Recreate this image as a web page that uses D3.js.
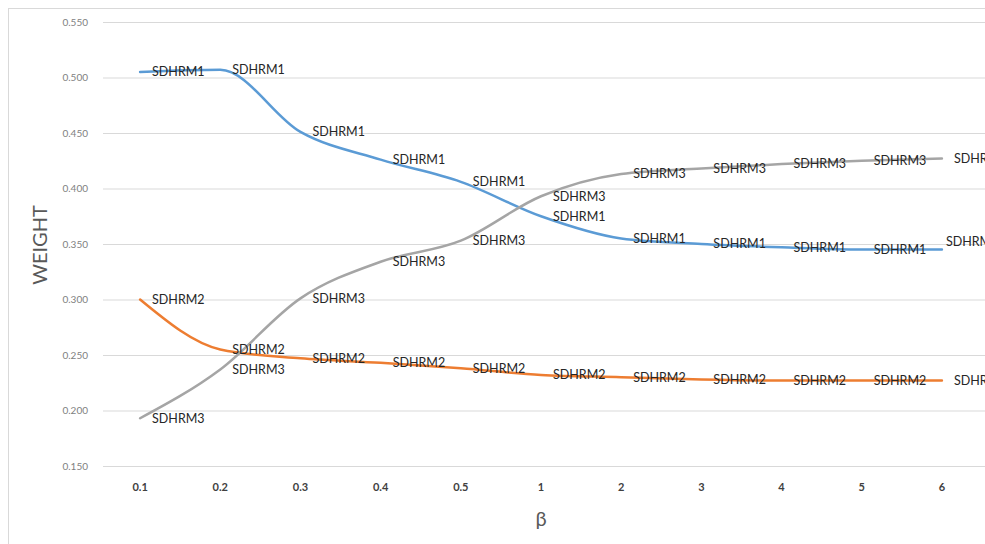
<!DOCTYPE html>
<html lang="en">
<head>
<meta charset="utf-8">
<title>Weight vs beta</title>
<script src="https://d3js.org/d3.v7.min.js"></script>
<style>
  body { margin: 0; background: #fff; }
  svg { display: block; }
</style>
</head>
<body>
<div id="chart"></div>
<script>
// categories on the x axis (beta)
var betas = ["0.1", "0.2", "0.3", "0.4", "0.5", "1", "2", "3", "4", "5", "6"];

// series values
var sdhrm1 = [0.505, 0.507, 0.451, 0.426, 0.406, 0.375, 0.355, 0.350, 0.347, 0.345, 0.345];
var sdhrm2 = [0.300, 0.255, 0.247, 0.243, 0.238, 0.232, 0.230, 0.228, 0.227, 0.227, 0.227];
var sdhrm3 = [0.193, 0.237, 0.301, 0.334, 0.353, 0.393, 0.413, 0.418, 0.422, 0.425, 0.427];

var seriesNames = ["SDHRM1", "SDHRM2", "SDHRM3"];
var yTicks = [0.150, 0.200, 0.250, 0.300, 0.350, 0.400, 0.450, 0.500, 0.550];

var w = 985, h = 544;
var colors = ["#5b9bd5", "#ed7d31", "#a5a5a5"];

var series = [sdhrm1, sdhrm2, sdhrm3].map(function(vals, i) {
  return { name: seriesNames[i], values: vals };
});

var svg = d3.select("#chart").append("svg")
  .attr("width", w).attr("height", h);

// faint chart frame
svg.append("rect")
  .attr("x", 8.5).attr("y", 8.5)
  .attr("width", 990).attr("height", 550)
  .attr("fill", "none").attr("stroke", "#d9d9d9");

var xScale = d3.scaleBand()
  .domain(betas)
  .range([100, 982]);

var yScale = d3.scaleLinear()
  .domain([0.15, 0.55])
  .range([466, 22]);

// gridlines
svg.append("g").selectAll("line")
  .data(yTicks).enter().append("line")
  .attr("x1", 103).attr("x2", 985)
  .attr("y1", function(d) { return yScale(d) + 0.5; })
  .attr("y2", function(d) { return yScale(d) + 0.5; })
  .attr("stroke", "#d9d9d9").attr("stroke-width", 1);

// y axis labels
svg.append("g").selectAll("text")
  .data(yTicks).enter().append("text")
  .attr("x", 88)
  .attr("y", function(d) { return yScale(d); })
  .attr("dy", "0.35em")
  .attr("text-anchor", "end")
  .attr("font-family", "Lato, sans-serif")
  .attr("font-size", "10px")
  .attr("fill", "#7f7f7f")
  .text(function(d) { return d3.format(".3f")(d); });

// x axis labels
svg.append("g").selectAll("text")
  .data(betas).enter().append("text")
  .attr("x", function(d) { return xScale(d) + xScale.bandwidth() / 2; })
  .attr("y", 491)
  .attr("text-anchor", "middle")
  .attr("font-family", "Lato, sans-serif")
  .attr("font-size", "11px")
  .attr("font-weight", "bold")
  .attr("fill", "#404040")
  .text(function(d) { return d; });

// axis titles
svg.append("text")
  .attr("x", 541).attr("y", 526)
  .attr("text-anchor", "middle")
  .attr("font-family", "Lato, sans-serif")
  .attr("font-size", "20px")
  .attr("fill", "#595959")
  .text("β");

svg.append("text")
  .attr("transform", "translate(47,245) rotate(-90)")
  .attr("text-anchor", "middle")
  .attr("font-family", "Lato, sans-serif")
  .attr("font-size", "20px")
  .attr("fill", "#595959")
  .text("WEIGHT");

var line = d3.line()
  .x(function(d, i) { return xScale(betas[i]) + xScale.bandwidth() / 2; })
  .y(function(d) { return yScale(d); })
  .curve(d3.curveMonotoneX);

// lines
svg.append("g").selectAll("path")
  .data(series).enter().append("path")
  .attr("d", function(d) { return line(d.values); })
  .attr("fill", "none")
  .attr("stroke", function(d, i) { return colors[i]; })
  .attr("stroke-width", 2.5)
  .attr("stroke-linecap", "round");

// data labels
series.forEach(function(s, si) {
  svg.append("g").selectAll("text")
    .data(s.values).enter().append("text")
    .attr("x", function(d, i) {
      var x = xScale(betas[i]) + xScale.bandwidth() / 2 + 12;
      // last blue label is pulled in by the chart edge
      if (si === 0 && i === betas.length - 1) x -= 8;
      return x;
    })
    .attr("y", function(d, i) {
      var y = yScale(d);
      if (si === 0 && i === betas.length - 1) y -= 8;
      return y;
    })
    .attr("dy", "0.35em")
    .attr("font-family", "Lato, sans-serif")
    .attr("font-size", "12.5px")
    .attr("fill", "#262626")
    .text(s.name);
});
</script>
</body>
</html>
